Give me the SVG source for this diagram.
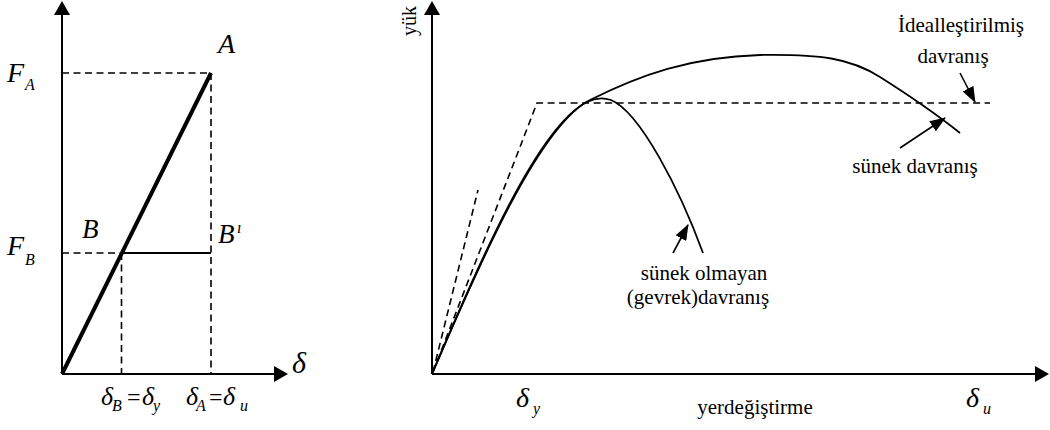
<svg xmlns="http://www.w3.org/2000/svg" width="1050" height="430" viewBox="0 0 1050 430">
<defs>
<marker id="axh" markerUnits="userSpaceOnUse" viewBox="0 0 14 16" markerWidth="14" markerHeight="16" refX="0" refY="8" orient="auto"><path d="M0,0 L14,8 L0,16 z" fill="#000"/></marker>
<marker id="arh" markerUnits="userSpaceOnUse" viewBox="0 0 16 12" markerWidth="16" markerHeight="12" refX="15" refY="6" orient="auto"><path d="M0,0 L16,6 L0,12 z" fill="#000"/></marker>
</defs>

<g id="left-chart">
<g stroke="#000" stroke-width="2" fill="none">
<line x1="62" y1="374" x2="62" y2="15" marker-end="url(#axh)"/>
<line x1="62" y1="374" x2="274" y2="374" marker-end="url(#axh)"/>
</g>
<line x1="62" y1="374" x2="211" y2="73" stroke="#000" stroke-width="4"/>
<g stroke="#000" stroke-width="1.6" fill="none" stroke-dasharray="7 4.5">
<line x1="62" y1="73" x2="211" y2="73"/>
<line x1="211" y1="73" x2="211" y2="374"/>
<line x1="62" y1="253" x2="121" y2="253"/>
<line x1="121.5" y1="253" x2="121.5" y2="374"/>
</g>
<line x1="121" y1="253" x2="211" y2="253" stroke="#000" stroke-width="1.8"/>
<text font-family="Times New Roman, Liberation Serif, serif" font-style="italic" x="218" y="53" font-size="28">A</text>
<text font-family="Times New Roman, Liberation Serif, serif" font-style="italic" x="7" y="82" font-size="28">F</text>
<text font-family="Times New Roman, Liberation Serif, serif" font-style="italic" x="25" y="90" font-size="16">A</text>
<text font-family="Times New Roman, Liberation Serif, serif" font-style="italic" x="82" y="238" font-size="27">B</text>
<text font-family="Times New Roman, Liberation Serif, serif" font-style="italic" x="7" y="255" font-size="28">F</text>
<text font-family="Times New Roman, Liberation Serif, serif" font-style="italic" x="25" y="265" font-size="16">B</text>
<text font-family="Times New Roman, Liberation Serif, serif" font-style="italic" x="218" y="243" font-size="27">B</text>
<text font-family="Times New Roman, Liberation Serif, serif" font-style="italic" x="237" y="233" font-size="16">ı</text>
<text font-family="Times New Roman, Liberation Serif, serif" font-style="italic" x="292" y="373" font-size="30">δ</text>
<text font-family="Times New Roman, Liberation Serif, serif" font-style="italic" x="101" y="405" font-size="26">δ</text>
<text font-family="Times New Roman, Liberation Serif, serif" font-style="italic" x="112" y="411" font-size="16">B</text>
<text font-family="Times New Roman, Liberation Serif, serif" x="127" y="405" font-size="24">=</text>
<text font-family="Times New Roman, Liberation Serif, serif" font-style="italic" x="142" y="405" font-size="26">δ</text>
<text font-family="Times New Roman, Liberation Serif, serif" font-style="italic" x="153" y="411" font-size="16">y</text>
<text font-family="Times New Roman, Liberation Serif, serif" font-style="italic" x="186" y="405" font-size="26">δ</text>
<text font-family="Times New Roman, Liberation Serif, serif" font-style="italic" x="196" y="411" font-size="16">A</text>
<text font-family="Times New Roman, Liberation Serif, serif" x="209" y="405" font-size="24">=</text>
<text font-family="Times New Roman, Liberation Serif, serif" font-style="italic" x="223" y="405" font-size="26">δ</text>
<text font-family="Times New Roman, Liberation Serif, serif" font-style="italic" x="240" y="411" font-size="16">u</text>
</g>

<g id="right-axes">
<g stroke="#000" stroke-width="2" fill="none">
<line x1="432" y1="374" x2="432" y2="15" marker-end="url(#axh)"/>
<line x1="432" y1="374" x2="1035" y2="374" marker-end="url(#axh)"/>
</g>
<text font-family="Times New Roman, Liberation Serif, serif" x="416" y="21" font-size="20" text-anchor="middle" transform="rotate(-90 416 21)">yük</text>
<text font-family="Times New Roman, Liberation Serif, serif" font-style="italic" x="516" y="407" font-size="28">δ</text>
<text font-family="Times New Roman, Liberation Serif, serif" font-style="italic" x="533" y="414" font-size="16">y</text>
<text font-family="Times New Roman, Liberation Serif, serif" x="755" y="414" font-size="21" text-anchor="middle">yerdeğiştirme</text>
<text font-family="Times New Roman, Liberation Serif, serif" font-style="italic" x="966" y="407" font-size="28">δ</text>
<text font-family="Times New Roman, Liberation Serif, serif" font-style="italic" x="983" y="414" font-size="16">u</text>
</g>

<g id="idealized">
<g stroke="#000" stroke-width="1.6" fill="none" stroke-dasharray="7 4.5">
<path d="M433,372 L478,190"/>
<path d="M433,372 L537,103 L990,103"/>
</g>
<text font-family="Times New Roman, Liberation Serif, serif" x="961" y="32" font-size="21" text-anchor="middle">İdealleştirilmiş</text>
<text font-family="Times New Roman, Liberation Serif, serif" x="953" y="63" font-size="21" text-anchor="middle">davranış</text>
</g>

<g id="ductile">
<path stroke="#000" stroke-width="1.8" fill="none" d="M432,374 C480,262 540,125 590,100 C640,75 690,57 760,55 C820,54 850,58 880,77 C910,96 940,117 960,133"/>
<text font-family="Times New Roman, Liberation Serif, serif" x="915" y="173" font-size="21" text-anchor="middle">sünek davranış</text>
</g>

<g id="brittle">
<path stroke="#000" stroke-width="1.8" fill="none" d="M432,374 C479,264 537,127 587,102 C593,99 602,97 611,100 C640,112 680,190 703,253"/>
<text font-family="Times New Roman, Liberation Serif, serif" x="704" y="280" font-size="21" text-anchor="middle">sünek olmayan</text>
<text font-family="Times New Roman, Liberation Serif, serif" x="698" y="304" font-size="21" text-anchor="middle">(gevrek)davranış</text>
</g>

<g id="connectors" stroke="#000" stroke-width="1.6" fill="none">
<line x1="960" y1="73" x2="975" y2="102" marker-end="url(#arh)"/>
<line x1="900" y1="148" x2="945" y2="118" marker-end="url(#arh)"/>
<line x1="673" y1="253" x2="688" y2="225" marker-end="url(#arh)"/>
</g>
</svg>
